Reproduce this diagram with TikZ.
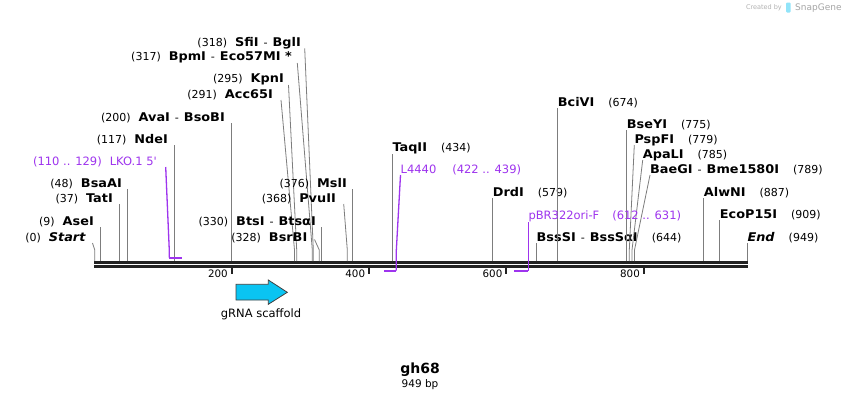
\documentclass[tikz,border=0pt]{standalone}
\usepackage{fontspec}
\setmainfont{DejaVu Sans}
\newfontfamily\enzfont{DejaVu Sans}[FakeStretch=1.07]
\definecolor{primercol}{RGB}{158,52,238}
\definecolor{featcyan}{RGB}{10,196,242}
\definecolor{sitegray}{RGB}{125,125,125}
\definecolor{darkline}{RGB}{34,34,34}
\newcommand{\enznum}[1]{{\fontsize{11}{12}\selectfont#1}}
\newcommand{\enzname}[1]{{\enzfont\bfseries\fontsize{12}{14}\selectfont#1}}
\newcommand{\enzdash}{\hspace{5pt}{\mdseries\fontsize{10.5}{12}\selectfont-}\hspace{5pt}}
\newcommand{\enzleft}[2]{\enznum{#1}\hspace{8pt}\enzname{#2}}
\newcommand{\enzright}[2]{\enzname{#1}\hspace{14pt}\enznum{#2}}
\begin{document}
\begin{tikzpicture}[x=1pt,y=-1pt,
    font=\fontsize{11}{13}\selectfont,
    enz/.style={inner sep=0pt},
    primerlabel/.style={inner sep=0pt,text=primercol,font=\fontsize{11.5}{13}\selectfont},
    cutline/.style={draw=sitegray,line width=0.8pt},
    primerline/.style={draw=primercol,line width=1.3pt},
    primerbar/.style={draw=primercol,line width=2.2pt},
    tickmark/.style={draw=darkline,line width=2pt}]
    \useasboundingbox[fill=white] (0,0) rectangle (842,400);

    % backbone
    \draw[darkline,line width=3pt] (94,262.5) -- (748,262.5);
    \draw[darkline,line width=3pt] (94,266.7) -- (748,266.7);

    % ticks
    \draw[tickmark] (231.5,268) -- (231.5,273.5);
    \node[enz,anchor=base east,font=\fontsize{10.3}{12}\selectfont] (t200) at (228,277) {200};
    \draw[tickmark] (368.8,268) -- (368.8,273.5);
    \node[enz,anchor=base east,font=\fontsize{10.3}{12}\selectfont] (t400) at (365.3,277) {400};
    \draw[tickmark] (506,268) -- (506,273.5);
    \node[enz,anchor=base east,font=\fontsize{10.3}{12}\selectfont] (t600) at (502.5,277) {600};
    \draw[tickmark] (643.5,268) -- (643.5,273.5);
    \node[enz,anchor=base east,font=\fontsize{10.3}{12}\selectfont] (t800) at (640,277) {800};

    % cut sites on the backbone
    \coordinate (s0)   at (94.8,261);
    \coordinate (s9)   at (100,261);
    \coordinate (s37)  at (119.7,261);
    \coordinate (s48)  at (127.7,261);
    \coordinate (s117) at (174.7,261);
    \coordinate (s200) at (231.5,261);
    \coordinate (s291) at (294.5,261);
    \coordinate (s295) at (296.7,261);
    \coordinate (s317) at (312.3,261);
    \coordinate (s318) at (313.3,261);
    \coordinate (s328) at (319.3,261);
    \coordinate (s330) at (321.3,261);
    \coordinate (s368) at (347.3,261);
    \coordinate (s376) at (352,261);
    \coordinate (s434) at (392.3,261);
    \coordinate (s579) at (492.7,261);
    \coordinate (s644) at (536.5,261);
    \coordinate (s674) at (557.7,261);
    \coordinate (s775) at (626.7,261);
    \coordinate (s779) at (629.3,261);
    \coordinate (s785) at (632,261);
    \coordinate (s789) at (634.5,261);
    \coordinate (s887) at (703.7,261);
    \coordinate (s909) at (719.7,261);
    \coordinate (s949) at (747.3,261);

    % enzymes, left side
    \node[enz,anchor=base east] (Start) at (86,241.5) {\enzleft{(0)}{\textit{Start}}};
    \draw[cutline] ([xshift=6.5pt,yshift=-1.5pt]Start.base east) -- ([yshift=11pt]s0) -- (s0);
    \node[enz,anchor=base east] (AseI) at (94,225.5) {\enzleft{(9)}{AseI}};
    \draw[cutline] (s9) -- (s9 |- AseI.south);
    \node[enz,anchor=base east] (TatI) at (113,202.5) {\enzleft{(37)}{TatI}};
    \draw[cutline] (s37) -- (s37 |- TatI.south);
    \node[enz,anchor=base east] (BsaAI) at (122,187.5) {\enzleft{(48)}{BsaAI}};
    \draw[cutline] (s48) -- (s48 |- BsaAI.south);
    \node[enz,anchor=base east] (NdeI) at (168,143.5) {\enzleft{(117)}{NdeI}};
    \draw[cutline] (s117) -- (s117 |- NdeI.south);
    \node[enz,anchor=base east] (AvaI) at (225,121.5) {\enzleft{(200)}{AvaI\enzdash BsoBI}};
    \draw[cutline] (s200) -- (s200 |- AvaI.south);
    \node[enz,anchor=base east] (Acc65I) at (273,98.5) {\enzleft{(291)}{Acc65I}};
    \draw[cutline] ([xshift=8pt,yshift=-1.5pt]Acc65I.base east) -- ([yshift=11pt]s291) -- (s291);
    \node[enz,anchor=base east] (KpnI) at (284,82.5) {\enzleft{(295)}{KpnI}};
    \draw[cutline] ([xshift=4.5pt,yshift=-2.5pt]KpnI.base east) -- ([yshift=11pt]s295) -- (s295);
    \node[enz,anchor=base east] (BpmI) at (292,60.5) {\enzleft{(317)}{BpmI\enzdash Eco57MI *}};
    \draw[cutline] ([xshift=5.3pt,yshift=-2.5pt]BpmI.base east) -- ([yshift=11pt]s317) -- (s317);
    \node[enz,anchor=base east] (SfiI) at (301,46.5) {\enzleft{(318)}{SfiI\enzdash BglI}};
    \draw[cutline] ([xshift=3.7pt,yshift=-1.8pt]SfiI.base east) -- ([yshift=11pt]s318) -- (s318);
    \node[enz,anchor=base east] (BtsI) at (316,225.5) {\enzleft{(330)}{BtsI\enzdash BtsαI}};
    \draw[cutline] (s330) -- (s330 |- BtsI.south);
    \node[enz,anchor=base east] (BsrBI) at (307.5,241.5) {\enzleft{(328)}{BsrBI}};
    \draw[cutline] ([xshift=7pt,yshift=2pt]BsrBI.base east) -- ([yshift=11pt]s328) -- (s328);
    \node[enz,anchor=base east] (PvuII) at (336,202.5) {\enzleft{(368)}{PvuII}};
    \draw[cutline] ([xshift=7.7pt,yshift=-1.5pt]PvuII.base east) -- ([yshift=11pt]s368) -- (s368);
    \node[enz,anchor=base east] (MslI) at (347,187.5) {\enzleft{(376)}{MslI}};
    \draw[cutline] (s376) -- (s376 |- MslI.south);

    % enzymes, right side
    \node[enz,anchor=base west] (TaqII) at (392.3,151) {\enzright{TaqII}{(434)}};
    \draw[cutline] (s434) -- (s434 |- TaqII.south);
    \node[enz,anchor=base west] (DrdI) at (492.7,196) {\enzright{DrdI}{(579)}};
    \draw[cutline] (s579) -- (s579 |- DrdI.south);
    \node[enz,anchor=base west] (BssSI) at (536.5,241.5) {\enzright{BssSI\enzdash BssSαI}{(644)}};
    \draw[cutline] (s644) -- (s644 |- BssSI.south);
    \node[enz,anchor=base west] (BciVI) at (557.7,106.5) {\enzright{BciVI}{(674)}};
    \draw[cutline] (s674) -- (s674 |- BciVI.south);
    \node[enz,anchor=base west] (BseYI) at (626.7,128) {\enzright{BseYI}{(775)}};
    \draw[cutline] (s775) -- (s775 |- BseYI.south);
    \node[enz,anchor=base west] (PspFI) at (634.3,143.5) {\enzright{PspFI}{(779)}};
    \draw[cutline] ([yshift=-1.5pt]PspFI.base west) -- ([yshift=11pt]s779) -- (s779);
    \node[enz,anchor=base west] (ApaLI) at (642.7,158.5) {\enzright{ApaLI}{(785)}};
    \draw[cutline] ([yshift=-1.5pt]ApaLI.base west) -- ([yshift=11pt]s785) -- (s785);
    \node[enz,anchor=base west] (BaeGI) at (650,173.5) {\enzright{BaeGI\enzdash Bme1580I}{(789)}};
    \draw[cutline] ([yshift=-1.5pt]BaeGI.base west) -- ([yshift=11pt]s789) -- (s789);
    \node[enz,anchor=base west] (AlwNI) at (703.7,196) {\enzright{AlwNI}{(887)}};
    \draw[cutline] (s887) -- (s887 |- AlwNI.south);
    \node[enz,anchor=base west] (EcoP15I) at (719.7,218.5) {\enzright{EcoP15I}{(909)}};
    \draw[cutline] (s909) -- (s909 |- EcoP15I.south);
    \node[enz,anchor=base west] (End) at (747.3,241.5) {\enzright{\textit{End}}{(949)}};
    \draw[cutline] (s949) -- (s949 |- End.south);

    % primers
    \coordinate (p110) at (169.3,257.7);
    \coordinate (p129) at (182,257.7);
    \draw[primerbar] (p110) -- (p129);
    \node[primerlabel,anchor=base east] (LKO) at (157,165.5) {(110 .. 129)\hspace{8pt}LKO.1 5\textquotesingle};
    \draw[primerline] ([xshift=8.7pt,yshift=-1.5pt]LKO.base east) -- ([yshift=7pt]p110) -- (p110);

    \coordinate (p422) at (384,270.7);
    \coordinate (p439) at (396.3,270.7);
    \draw[primerbar] (p422) -- (p439);
    \node[primerlabel,anchor=base west] (L4440) at (400.5,173.5) {L4440\hspace{16pt}(422 .. 439)};
    \draw[primerline] ([yshift=-1.5pt]L4440.base west) -- ([yshift=20pt]p439) -- (p439);

    \coordinate (p612) at (514,270.7);
    \coordinate (p631) at (528.3,270.7);
    \draw[primerbar] (p612) -- (p631);
    \node[primerlabel,anchor=base west] (pBR) at (528.3,219.5) {pBR322ori-F\hspace{13pt}(612 .. 631)};
    \draw[primerline] (p631) -- (p631 |- pBR.south);

    % feature
    \draw[draw=black!75,fill=featcyan,line width=0.8pt] (236,284.3) -- (268.3,284.3) -- (268.3,280)
      -- (287.3,292.3) -- (268.3,304.3) -- (268.3,300) -- (236,300) -- cycle;
    \node[enz,anchor=base,font=\fontsize{11.5}{13}\selectfont] (gRNA) at (261,317) {gRNA scaffold};

    % title
    \node[enz,anchor=base,font=\bfseries\fontsize{14}{16}\selectfont] (title) at (420,373) {gh68};
    \node[enz,anchor=base,font=\fontsize{10.5}{12}\selectfont] (size) at (420,387) {949 bp};

    % watermark
    \node[enz,anchor=base east,text=black!30,font=\fontsize{6.5}{8}\selectfont] (cby) at (782,9.5) {Created by};
    \fill[featcyan!45,rounded corners=1pt] (786,2.5) rectangle (790.5,12.5);
    \node[enz,anchor=base west,text=black!35,font=\fontsize{9}{10}\selectfont] (snap) at (795,10.5) {SnapGene};
\end{tikzpicture}
\end{document}
